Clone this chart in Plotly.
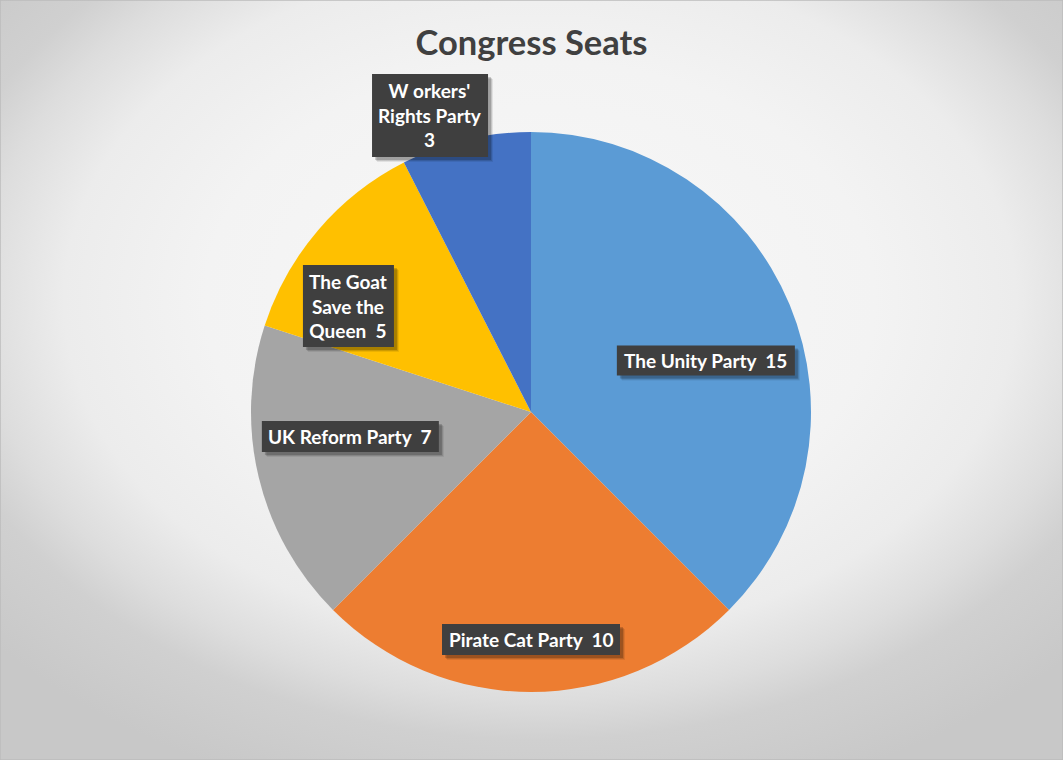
import base64
import math

import plotly.graph_objects as go

W, H = 1063, 760

parties = ["The Unity Party", "Pirate Cat Party", "UK Reform Party",
           "The Goat Save the Queen", "W orkers' Rights Party"]
seats = [15, 10, 7, 5, 3]
label_text = ["The Unity Party  15", "Pirate Cat Party  10", "UK Reform Party  7",
              "The Goat<br>Save the<br>Queen  5", "W orkers'<br>Rights Party<br>3"]
colors = ["#5B9BD5", "#ED7D31", "#A5A5A5", "#FFC000", "#4472C4"]

# pie geometry in pixels
CX, CY, R = 531, 412, 280
# label placement: radial fraction and angular nudge (deg) per slice, box size (px)
LABEL_F = [0.651, 0.8125, 0.651, 0.754, 1.119]
LABEL_DA = [6.1, 0, 5.8, -10.35, -5.3]
BOX_W = [178, 178, 177, 91, 116]
BOX_H = [30, 31, 31, 82, 83]

bg_svg = f"""<svg xmlns="http://www.w3.org/2000/svg" width="{W}" height="{H}">
<defs><radialGradient id="g" gradientUnits="userSpaceOnUse" cx="540" cy="300" r="728"
 gradientTransform="translate(540 300) scale(1 0.714) translate(-540 -300)">
<stop offset="0" stop-color="#f8f8f8"/><stop offset="0.46" stop-color="#f3f3f3"/>
<stop offset="0.654" stop-color="#ececec"/><stop offset="0.769" stop-color="#dddddd"/>
<stop offset="0.846" stop-color="#d0d0d0"/><stop offset="1" stop-color="#c8c8c8"/>
</radialGradient></defs>
<rect width="{W}" height="{H}" fill="url(#g)"/></svg>"""
bg_uri = "data:image/svg+xml;base64," + base64.b64encode(bg_svg.encode()).decode()

fig = go.Figure(go.Pie(
    labels=parties, values=seats, sort=False, direction="clockwise", rotation=0,
    marker=dict(colors=colors, line=dict(width=0)), textinfo="none",
    hoverinfo="label+value", showlegend=False,
    domain=dict(x=[(CX - R) / W, (CX + R) / W], y=[1 - (CY + R) / H, 1 - (CY - R) / H]),
))

# data labels: dark boxes with a drop shadow, placed along each slice's mid angle
total = sum(seats)
cum = 0
for i, v in enumerate(seats):
    mid = (cum + v / 2) / total * 360 + LABEL_DA[i]
    cum += v
    a = math.radians(mid)
    px = CX + LABEL_F[i] * R * math.sin(a)
    py = CY - LABEL_F[i] * R * math.cos(a)
    x0, x1 = px - BOX_W[i] / 2, px + BOX_W[i] / 2
    y0, y1 = py - BOX_H[i] / 2, py + BOX_H[i] / 2
    for off, alpha in ((5, 0.08), (4, 0.12), (3, 0.18)):
        fig.add_shape(type="rect", xref="paper", yref="paper", layer="above",
                      x0=(x0 + off) / W, x1=(x1 + off) / W,
                      y0=1 - (y1 + off) / H, y1=1 - (y0 + off) / H,
                      line=dict(width=0), fillcolor=f"rgba(0,0,0,{alpha})")
    fig.add_shape(type="rect", xref="paper", yref="paper", layer="above",
                  x0=x0 / W, x1=x1 / W, y0=1 - y1 / H, y1=1 - y0 / H,
                  line=dict(width=0), fillcolor="#3f3f3f")
    fig.add_annotation(x=px / W, y=1 - py / H, xref="paper", yref="paper",
                       showarrow=False, xanchor="center", yanchor="middle",
                       text=label_text[i], align="center",
                       font=dict(family="Lato", size=19, color="white", weight="bold"))

fig.add_layout_image(source=bg_uri, xref="paper", yref="paper", x=0, y=1,
                     sizex=1, sizey=1, sizing="stretch", layer="below")
fig.add_shape(type="rect", xref="paper", yref="paper", x0=0, y0=0, x1=1, y1=1,
              line=dict(color="#bcbcbc", width=1.5))

fig.update_layout(
    width=W, height=H, margin=dict(l=0, r=0, t=0, b=0),
    paper_bgcolor="#e8e8e8", plot_bgcolor="rgba(0,0,0,0)",
    title=dict(text="<b>Congress Seats</b>", x=0.5, xanchor="center", y=1 - 43 / H,
               yanchor="middle", font=dict(family="Lato", size=34.5, color="#404040")),
)

fig.write_html("out.html", config={"displayModeBar": False},
               post_script="document.body.style.margin='0';"
                           "document.body.style.overflow='hidden';")
